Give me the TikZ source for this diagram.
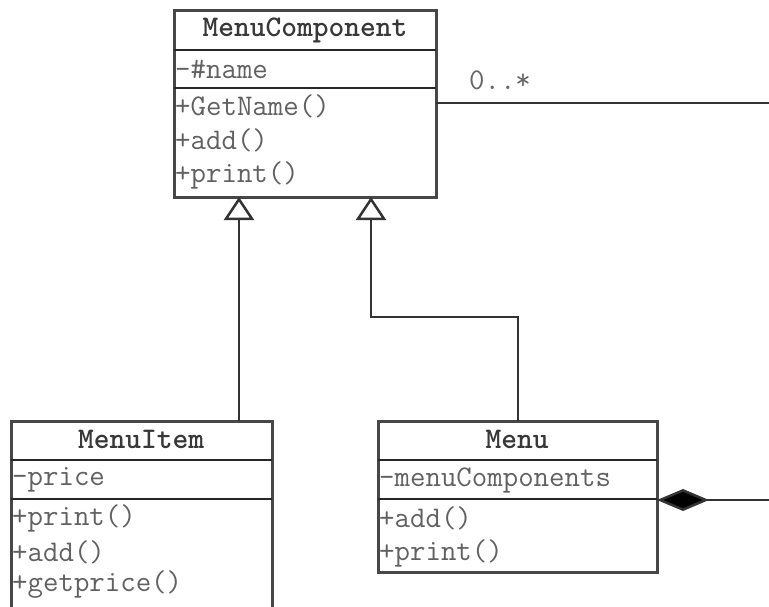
\documentclass[tikz,border=0pt]{standalone}
\usepackage{fontspec}
\usetikzlibrary{arrows.meta}
\begin{document}
\begin{tikzpicture}[x=1pt,y=-1pt,
  cls/.style={draw=black!72, line width=3pt, fill=white, anchor=north west, inner sep=0pt, outer sep=0pt},
  divider/.style={draw=black!85, line width=2.2pt},
  member/.style={anchor=west, inner sep=0pt, text=black!62, font=\ttfamily\fontsize{30}{34}\selectfont},
  title/.style={inner sep=0pt, text=black!78, font=\ttfamily\bfseries\fontsize{30}{34}\selectfont},
  conn/.style={draw=black!80, line width=2.5pt},
  gen/.style={conn, -{Triangle[open, length=23pt, width=30pt, fill=white]}},
  comp/.style={conn, {Diamond[length=52pt, width=22pt, fill=black]}-},
  mult/.style={inner sep=0pt, text=black!60, font=\ttfamily\fontsize{30}{34}\selectfont}]
\useasboundingbox (0,0) rectangle (769,606);

% MenuComponent
\node[cls, minimum width=262pt, minimum height=187pt] (mc) at (174,10) {};
\draw[divider] (mc.west |- 0,50) -- (mc.east |- 0,50);
\draw[divider] (mc.west |- 0,88) -- (mc.east |- 0,88);
\node[title] (mct) at (305,30) {MenuComponent};
\node[member] (mca) at (175,69) {-\#name};
\node[member] (mcm1) at (175,106) {+GetName()};
\node[member] (mcm2) at (175,140) {+add()};
\node[member] (mcm3) at (175,175) {+print()};

% MenuItem
\node[cls, minimum width=261pt, minimum height=200pt] (mi) at (11,421) {};
\draw[divider] (mi.west |- 0,460) -- (mi.east |- 0,460);
\draw[divider] (mi.west |- 0,499) -- (mi.east |- 0,499);
\node[title] (mit) at (141,439) {MenuItem};
\node[member] (mia) at (12,480) {-price};
\node[member] (mim1) at (12,518) {+print()};
\node[member] (mim2) at (12,552) {+add()};
\node[member] (mim3) at (12,585) {+getprice()};

% Menu
\node[cls, minimum width=279pt, minimum height=151pt] (me) at (378,421) {};
\draw[divider] (me.west |- 0,460) -- (me.east |- 0,460);
\draw[divider] (me.west |- 0,499) -- (me.east |- 0,499);
\node[title] (met) at (517,439) {Menu};
\node[member] (mea) at (379,480) {-menuComponents};
\node[member] (mem1) at (379,518) {+add()};
\node[member] (mem2) at (379,553) {+print()};

% connectors
\coordinate (rtop) at (772,103);
\coordinate (rbot) at (772,500);
\draw[gen] (mi.north -| 239,0) -- (mc.south -| 239,0);
\draw[gen] (me.north -| 518,0) -- (518,317) -- (371,317) -- (mc.south -| 371,0);
\draw[comp] (me.east |- 0,500) -- (rbot) -- (rtop) -- (mc.east |- 0,103);
\node[mult] (m0) at (500,80) {0..*};
\end{tikzpicture}
\end{document}
